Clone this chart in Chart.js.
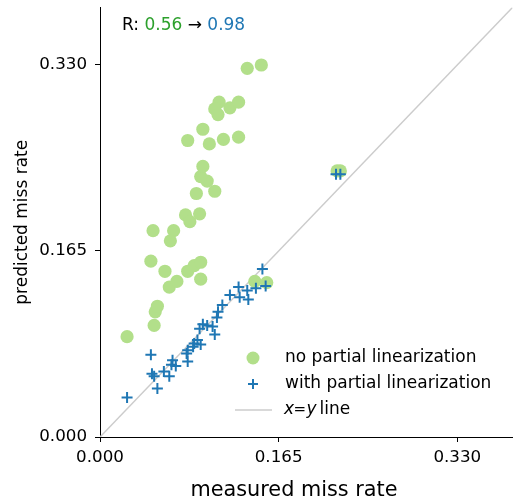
<!DOCTYPE html>
<html>
<head>
<meta charset="utf-8">
<script src="https://cdn.jsdelivr.net/npm/chart.js@4.4.0/dist/chart.umd.min.js"></script>
<style>
  html, body { margin: 0; padding: 0; background: #fff; }
  #wrap { width: 520px; height: 504px; }
</style>
</head>
<body>
<div id="wrap"><canvas id="c" width="520" height="504"></canvas></div>
<script>
// measured vs predicted miss rate
const noLinX = [0.025, 0.047, 0.050, 0.051, 0.053, 0.060, 0.064, 0.071, 0.081, 0.087, 0.093, 0.093, 0.049,
  0.068, 0.065, 0.079, 0.083, 0.092, 0.089, 0.106, 0.099, 0.093, 0.095, 0.081, 0.095, 0.101, 0.114, 0.128,
  0.110, 0.106, 0.109, 0.120, 0.128, 0.136, 0.149, 0.143, 0.154, 0.219, 0.222];
const noLinY = [0.089, 0.156, 0.099, 0.111, 0.116, 0.147, 0.133, 0.138, 0.147, 0.152, 0.155, 0.140, 0.183,
  0.183, 0.174, 0.197, 0.191, 0.198, 0.216, 0.218, 0.227, 0.231, 0.240, 0.263, 0.273, 0.260, 0.264, 0.266,
  0.297, 0.291, 0.286, 0.292, 0.297, 0.327, 0.330, 0.138, 0.137, 0.236, 0.236];
const withLinX = [0.025, 0.047, 0.048, 0.050, 0.053, 0.059, 0.064, 0.067, 0.066, 0.070, 0.080, 0.081, 0.081,
  0.086, 0.087, 0.090, 0.093, 0.092, 0.095, 0.099, 0.104, 0.106, 0.108, 0.109, 0.113, 0.120, 0.128, 0.129,
  0.136, 0.137, 0.144, 0.153, 0.150, 0.218, 0.222];
const withLinY = [0.035, 0.073, 0.056, 0.054, 0.043, 0.058, 0.054, 0.068, 0.064, 0.063, 0.074, 0.067, 0.077,
  0.080, 0.083, 0.086, 0.082, 0.096, 0.100, 0.099, 0.098, 0.091, 0.106, 0.111, 0.117, 0.126, 0.133, 0.124,
  0.130, 0.122, 0.132, 0.134, 0.149, 0.233, 0.233];
const refLine = [0, 0.381];
const tickValues = [0, 0.165, 0.33];
const axisMax = 0.381;
const rBefore = '0.56';
const rAfter = '0.98';
const legendLabels = ['no partial linearization', 'with partial linearization', 'line'];

const GREEN = '#b2df8a';
const BLUE = '#1f77b4';
const FONT = '"DejaVu Sans", Verdana, sans-serif';

const pts = (xs, ys) => xs.map((x, i) => ({ x, y: ys[i] }));

const extras = {
  id: 'extras',
  afterDraw(chart) {
    const c = chart.ctx;
    c.save();
    c.textBaseline = 'alphabetic';
    c.textAlign = 'left';

    // R annotation
    c.font = `17px ${FONT}`;
    let x = 122;
    const parts = [['R: ', '#000'], [rBefore, '#2ca02c'], [' \u2192 ', '#000'], [rAfter, BLUE]];
    for (const [t, col] of parts) {
      c.fillStyle = col;
      c.fillText(t, x, 30);
      x += c.measureText(t).width;
    }

    // x axis title
    c.font = `20.8px ${FONT}`;
    c.fillStyle = '#000';
    c.textAlign = 'center';
    c.fillText('measured miss rate', 294, 496);

    // legend
    c.textAlign = 'left';
    c.textBaseline = 'middle';
    c.fillStyle = GREEN;
    c.beginPath();
    c.arc(253, 358, 6.5, 0, Math.PI * 2);
    c.fill();
    c.strokeStyle = BLUE;
    c.lineWidth = 2;
    c.beginPath();
    c.moveTo(248, 384); c.lineTo(258, 384);
    c.moveTo(253, 379); c.lineTo(253, 389);
    c.stroke();
    c.strokeStyle = '#cccccc';
    c.lineWidth = 1.5;
    c.beginPath();
    c.moveTo(235, 410); c.lineTo(272, 410);
    c.stroke();

    c.fillStyle = '#000';
    c.font = `17px ${FONT}`;
    c.fillText(legendLabels[0], 285, 358);
    c.fillText(legendLabels[1], 285, 384);
    c.font = `italic 17px ${FONT}`;
    c.fillText('x', 284, 410);
    c.font = `15px ${FONT}`;
    c.fillText('=', 293.5, 410);
    c.font = `italic 17px ${FONT}`;
    c.fillText('y', 306.5, 410);
    c.font = `17px ${FONT}`;
    c.fillText(legendLabels[2], 319.5, 410);
    c.restore();
  }
};

const axisCommon = {
  type: 'linear',
  min: 0,
  max: axisMax,
  afterBuildTicks: (s) => { s.ticks = tickValues.map(v => ({ value: v })); },
  grid: { drawOnChartArea: false, drawTicks: true, tickLength: 5, color: '#000', tickWidth: 1 },
  border: { display: true, color: '#000', width: 1 },
  ticks: {
    color: '#000',
    font: { family: FONT, size: 16.7 },
    callback: (v) => Number(v).toFixed(3),
  },
};

const noPad = (s) => { s.paddingTop = 0; s.paddingBottom = 0; s.paddingLeft = 0; s.paddingRight = 0; };

new Chart(document.getElementById('c'), {
  type: 'scatter',
  data: {
    datasets: [
      {
        label: legendLabels[0],
        data: pts(noLinX, noLinY),
        pointStyle: 'circle',
        pointRadius: 6.6,
        backgroundColor: GREEN,
        borderWidth: 0,
        order: 2,
      },
      {
        label: legendLabels[1],
        data: pts(withLinX, withLinY),
        pointStyle: 'cross',
        pointRadius: 5.5,
        borderColor: BLUE,
        borderWidth: 2,
        order: 1,
      },
      {
        type: 'line',
        label: 'x = y line',
        data: pts(refLine, refLine),
        borderColor: '#cccccc',
        borderWidth: 1.5,
        pointRadius: 0,
        order: 3,
      },
    ],
  },
  options: {
    responsive: false,
    animation: false,
    layout: { padding: { top: 5, right: 5, left: 0, bottom: 0 } },
    plugins: { legend: { display: false }, tooltip: { enabled: false } },
    scales: {
      x: {
        ...axisCommon,
        position: 'bottom',
        ticks: { ...axisCommon.ticks, padding: 6, maxRotation: 0 },
        afterFit: (s) => { s.height = 67; noPad(s); },
      },
      y: {
        ...axisCommon,
        position: 'left',
        ticks: { ...axisCommon.ticks, padding: 8 },
        title: {
          display: true,
          text: 'predicted miss rate',
          color: '#000',
          font: { family: FONT, size: 17 },
          padding: { top: 12, bottom: 0 },
        },
        afterFit: (s) => { s.width = 100; noPad(s); },
      },
    },
  },
  plugins: [extras],
});
</script>
</body>
</html>
